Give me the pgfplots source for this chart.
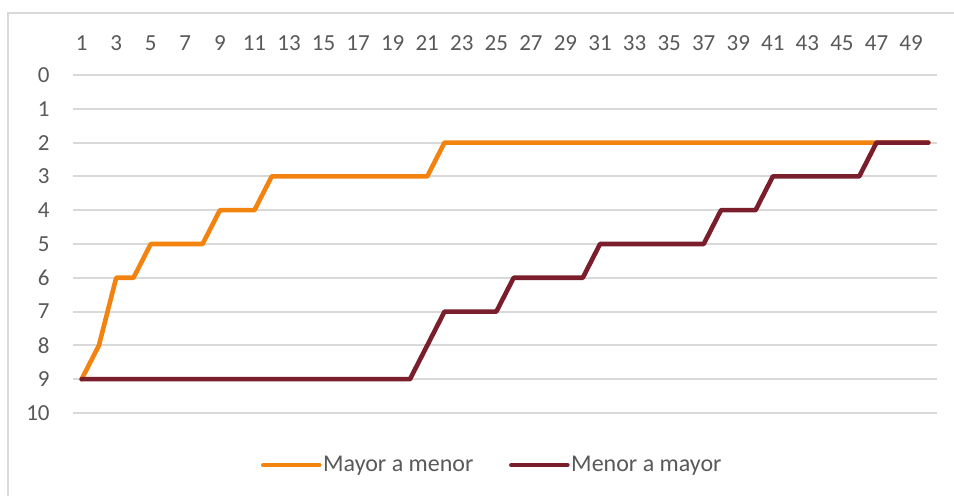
\documentclass[border=0pt]{standalone}
\usepackage{fontspec}
\setmainfont{Carlito}
\usepackage{pgfplots}
\pgfplotsset{compat=1.18}
\definecolor{txt}{HTML}{595959}
\definecolor{gridc}{HTML}{D9D9D9}
\definecolor{orangeL}{RGB}{242,131,15}
\definecolor{maroonL}{RGB}{123,30,43}
\begin{document}
\begin{tikzpicture}
\path[use as bounding box] (0,0) rectangle (477pt,248pt);
\draw[gridc, line width=1pt] (4pt,0pt) -- (4pt,241.5pt) -- (477pt,241.5pt);
\begin{axis}[
  at={(36.5pt,41.5pt)}, anchor=south west,
  scale only axis, width=432pt, height=169pt,
  xmin=0.5, xmax=50.5, ymin=0, ymax=10, y dir=reverse,
  xtick={1,3,...,49}, ytick={0,1,...,10},
  xticklabel pos=upper,
  major tick length=0pt,
  axis line style={draw=none},
  xmajorgrids=false, ymajorgrids=true,
  y grid style={draw=gridc, line width=1pt},
  /pgf/number format/assume math mode=true,
  tick label style={font=\fontsize{11.5}{13}\selectfont, text=txt, inner sep=0pt},
  xticklabel style={anchor=base, yshift=12pt},
  yticklabel style={anchor=east, xshift=-11.5pt},
  legend columns=2,
  legend style={at={(0.485,-0.154)}, anchor=center, draw=none, fill=none,
    font=\fontsize{12}{14}\selectfont, text=txt,
    nodes={inner sep=0.8pt},
    /tikz/every even column/.append style={column sep=17pt}},
  legend image code/.code={\draw[#1, line cap=round] (0pt,0pt) -- (28pt,0pt);},
  every axis plot/.append style={line width=2.3pt, line join=round, line cap=round, mark=none},
]
\addplot[orangeL] coordinates {
(1,9)(2,8)(3,6)(4,6)(5,5)(6,5)(7,5)(8,5)(9,4)(10,4)(11,4)
(12,3)(13,3)(14,3)(15,3)(16,3)(17,3)(18,3)(19,3)(20,3)(21,3)
(22,2)(23,2)(24,2)(25,2)(26,2)(27,2)(28,2)(29,2)(30,2)(31,2)(32,2)(33,2)(34,2)(35,2)(36,2)
(37,2)(38,2)(39,2)(40,2)(41,2)(42,2)(43,2)(44,2)(45,2)(46,2)(47,2)(48,2)(49,2)(50,2)};
\addlegendentry{Mayor a menor}
\addplot[maroonL] coordinates {
(1,9)(2,9)(3,9)(4,9)(5,9)(6,9)(7,9)(8,9)(9,9)(10,9)(11,9)(12,9)(13,9)(14,9)(15,9)(16,9)(17,9)(18,9)(19,9)(20,9)
(21,8)(22,7)(23,7)(24,7)(25,7)(26,6)(27,6)(28,6)(29,6)(30,6)
(31,5)(32,5)(33,5)(34,5)(35,5)(36,5)(37,5)(38,4)(39,4)(40,4)
(41,3)(42,3)(43,3)(44,3)(45,3)(46,3)(47,2)(48,2)(49,2)(50,2)};
\addlegendentry{Menor a mayor}
\end{axis}
\end{tikzpicture}
\end{document}
